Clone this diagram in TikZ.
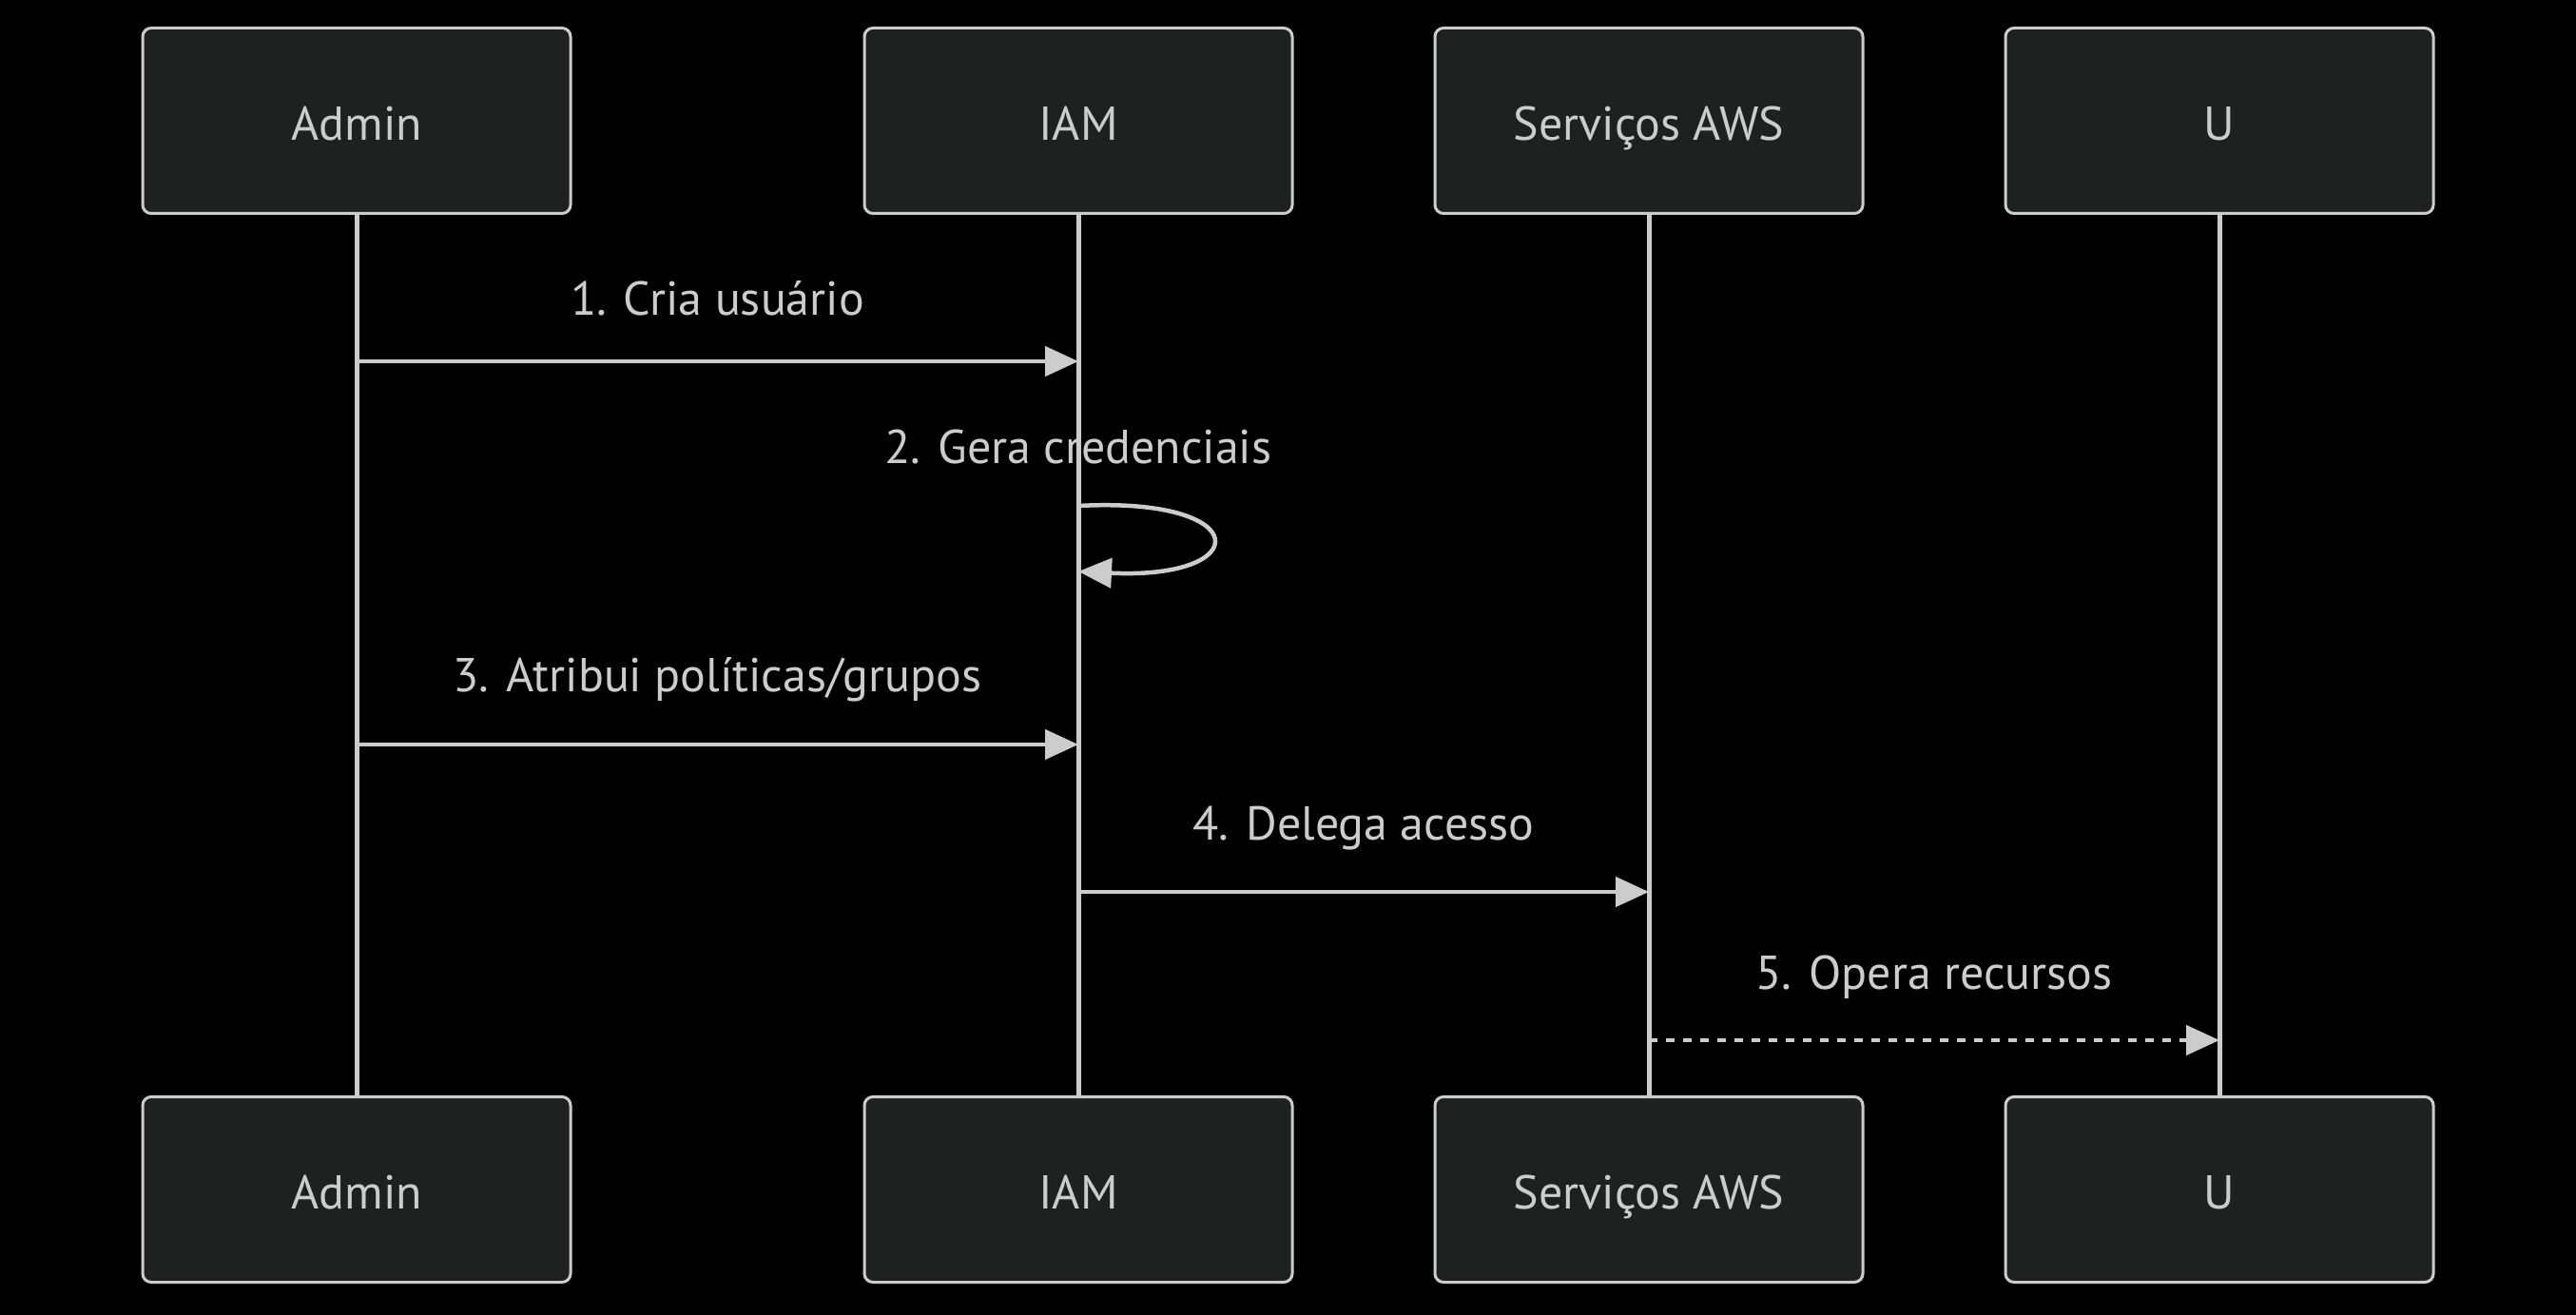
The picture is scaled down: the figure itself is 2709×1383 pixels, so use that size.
\documentclass[tikz,border=0pt]{standalone}
\usepackage{fontspec}
\setmainfont{PT Sans}
\usetikzlibrary{positioning,arrows.meta}
\definecolor{boxfill}{HTML}{1F2020}
\definecolor{ink}{HTML}{CCCCCC}
\tikzset{actor/.style={rectangle,draw=ink,fill=boxfill,line width=3pt,rounded corners=9pt,
		minimum width=450pt,minimum height=195pt,text=ink,text height=41pt,text depth=0pt,
		font=\fontsize{50}{58}\selectfont},
	 life/.style={draw=ink,line width=5pt},
	 msg/.style={draw=ink,line width=4.5pt,-{Triangle[length=35pt,width=31pt]}},
	 lbl/.style={text=ink,font=\fontsize{50}{58}\selectfont},
	 node distance = 147pt
	 }

\begin{document}
\begin{tikzpicture}[x=1pt,y=-1pt] % sequence: Admin, IAM, AWS, U
	\fill[black] (0,0) rectangle (2709,1383);
	\node[actor] (a1) at (375,127) {Admin};
	\node[actor] (a2) [right=306pt of a1] {IAM};
	\node[actor] (a3) [right= of a2] {Serviços AWS};
	\node[actor] (a4) [right= of a3] {U};
	\node[actor] (b1) [below=926pt of a1] {Admin};
	\node[actor] (b2) [below=926pt of a2] {IAM};
	\node[actor] (b3) [below=926pt of a3] {Serviços AWS};
	\node[actor] (b4) [below=926pt of a4] {U};
	\draw[life] (a1) to (b1);
	\draw[life] (a2) to (b2);
	\draw[life] (a3) to (b3);
	\draw[life] (a4) to (b4);
	\coordinate (m1s) at (a1 |- 0,380);
	\coordinate (m1e) at (a2 |- 0,380);
	\coordinate (m2s) at (a2 |- 0,532);
	\coordinate (m2e) at (a2 |- 0,601);
	\coordinate (m3s) at (a1 |- 0,783);
	\coordinate (m3e) at (a2 |- 0,783);
	\coordinate (m4s) at (a2 |- 0,938);
	\coordinate (m4e) at (a3 |- 0,938);
	\coordinate (m5s) at (a3 |- 0,1094);
	\coordinate (m5e) at (a4 |- 0,1094);
	\draw[msg] (m1s) to node[lbl,yshift=66pt] {1. Cria usuário} (m1e);
	\draw[msg] (m2s) node[lbl,yshift=62pt] {2. Gera credenciais}
		.. controls (1320,522) and (1320,610) .. (m2e);
	\draw[msg] (m3s) to node[lbl,yshift=68pt] {3. Atribui políticas/grupos} (m3e);
	\draw[msg] (m4s) to node[lbl,yshift=67pt] {4. Delega acesso} (m4e);
	\draw[msg,dash pattern=on 9pt off 9pt] (m5s) to node[lbl,yshift=66pt] {5. Opera recursos} (m5e);
\end{tikzpicture}
\end{document}
